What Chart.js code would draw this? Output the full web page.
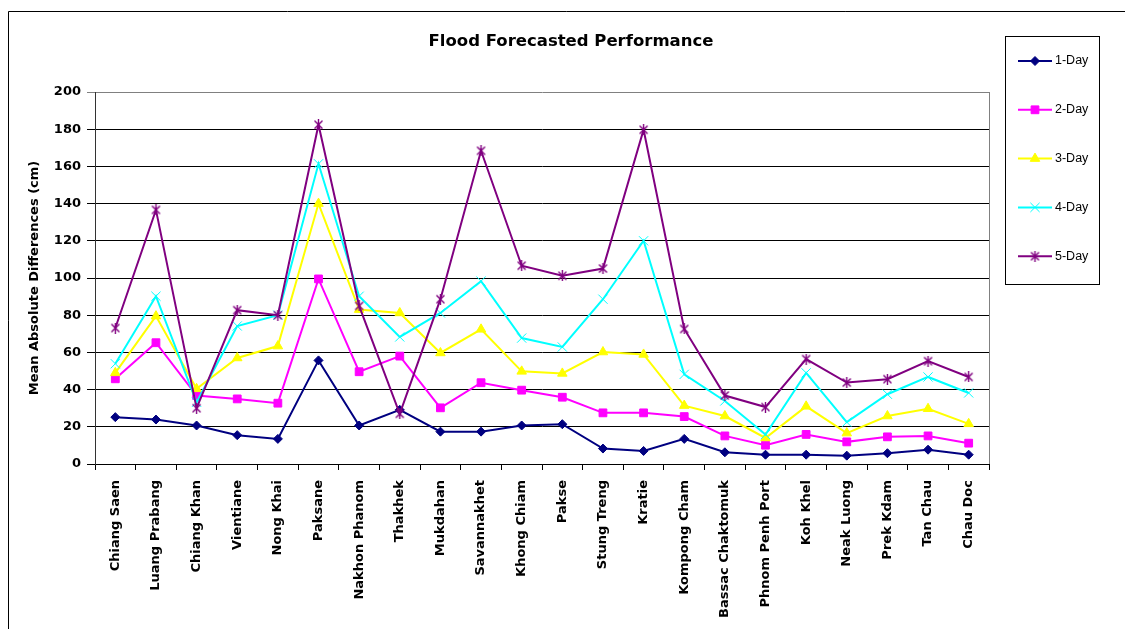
<!DOCTYPE html>
<html>
<head>
<meta charset="utf-8">
<title>Flood Forecasted Performance</title>
<script src="https://cdn.jsdelivr.net/npm/chart.js@4.4.1/dist/chart.umd.min.js"></script>
<style>
  html, body { margin: 0; padding: 0; background: #fff; }
  #chart { display: block; }
</style>
</head>
<body>
<canvas id="chart" width="1125" height="629"></canvas>
<script>
'use strict'
// estaciones del eje x
const stations = ['Chiang Saen', 'Luang Prabang', 'Chiang Khan', 'Vientiane', 'Nong Khai', 'Paksane',
  'Nakhon Phanom', 'Thakhek', 'Mukdahan', 'Savannakhet', 'Khong Chiam', 'Pakse', 'Stung Treng', 'Kratie',
  'Kompong Cham', 'Bassac Chaktomuk', 'Phnom Penh Port', 'Koh Khel', 'Neak Luong', 'Prek Kdam', 'Tan Chau', 'Chau Doc']
// valores (cm)
const day1 = [25.2, 23.9, 20.7, 15.5, 13.5, 55.7, 20.7, 29.1, 17.4, 17.4, 20.7, 21.4, 8.3, 7.0, 13.5, 6.3, 5.0, 5.0, 4.5, 5.8, 7.7, 5.0]
const day2 = [45.8, 65.2, 36.8, 35.0, 32.7, 99.5, 49.6, 58.0, 30.2, 43.7, 39.7, 35.9, 27.5, 27.5, 25.5, 15.1, 10.1, 15.9, 11.9, 14.6, 15.1, 11.2]
const day3 = [49.0, 79.5, 40.4, 57.0, 63.4, 140.0, 83.0, 81.2, 59.7, 72.4, 49.8, 48.7, 60.2, 58.9, 31.4, 25.8, 14.0, 31.0, 16.6, 25.8, 29.7, 21.6]
const day4 = [53.9, 90.2, 33.2, 74.2, 80.0, 161.4, 90.2, 68.3, 81.2, 98.3, 67.7, 62.9, 88.6, 120.0, 48.2, 33.9, 15.9, 49.0, 22.5, 37.5, 46.8, 38.2]
const day5 = [73.1, 136.6, 30.0, 82.7, 80.0, 182.4, 85.0, 27.0, 88.6, 168.4, 106.6, 101.2, 105.1, 179.7, 72.6, 36.8, 30.6, 56.4, 43.8, 45.6, 55.3, 46.8]
const seriesNames = ['1-Day', '2-Day', '3-Day', '4-Day', '5-Day']
const yTicks = [0, 20, 40, 60, 80, 100, 120, 140, 160, 180, 200]

Chart.defaults.font.family = '"DejaVu Sans", sans-serif'
Chart.defaults.color = '#000'

// marcador tipo asterisco (x con linea vertical)
function starMarker(color) {
    const c = document.createElement('canvas')
    c.width = 11
    c.height = 11
    const g = c.getContext('2d')
    g.strokeStyle = color
    g.lineWidth = 1.4
    g.beginPath()
    g.moveTo(1.5, 1.5); g.lineTo(9.5, 9.5)
    g.moveTo(9.5, 1.5); g.lineTo(1.5, 9.5)
    g.moveTo(5.5, 0); g.lineTo(5.5, 11)
    g.stroke()
    return c
}

function serie(label, data, color, style, radius, order) {
    return {
        label: label,
        data: data,
        borderColor: color,
        backgroundColor: color,
        pointBackgroundColor: color,
        pointBorderColor: color,
        pointBorderWidth: 1,
        pointStyle: style,
        pointRadius: radius,
        borderWidth: 2,
        tension: 0,
        order: order
    }
}

// titulo, marco y leyenda
const frame = {
    id: 'frame',
    beforeDraw(chart) {
        const ctx = chart.ctx
        ctx.save()
        ctx.fillStyle = '#fff'
        ctx.fillRect(0, 0, chart.width, chart.height)
        ctx.strokeStyle = '#000'
        ctx.lineWidth = 1
        ctx.beginPath()
        ctx.moveTo(8.5, chart.height)
        ctx.lineTo(8.5, 11.5)
        ctx.lineTo(chart.width, 11.5)
        ctx.stroke()
        ctx.restore()
    },
    beforeDatasetsDraw(chart) {
        const ctx = chart.ctx
        const a = chart.chartArea
        ctx.save()
        ctx.strokeStyle = '#808080'
        ctx.lineWidth = 1
        ctx.beginPath()
        ctx.moveTo(Math.round(a.right) + 0.5, a.top)
        ctx.lineTo(Math.round(a.right) + 0.5, a.bottom)
        ctx.stroke()
        ctx.restore()
    },
    afterDraw(chart) {
        const ctx = chart.ctx
        ctx.save()
        ctx.fillStyle = '#000'
        ctx.font = 'bold 16.5px "DejaVu Sans"'
        ctx.textAlign = 'center'
        ctx.textBaseline = 'middle'
        ctx.fillText('Flood Forecasted Performance', 571, 41.5)

        ctx.strokeStyle = '#000'
        ctx.lineWidth = 1
        ctx.strokeRect(1005.5, 36.5, 94, 248)
        chart.data.datasets.forEach((ds, i) => {
            const y = 61 + i * 48.8
            ctx.strokeStyle = ds.borderColor
            ctx.lineWidth = 2
            ctx.beginPath()
            ctx.moveTo(1018, y)
            ctx.lineTo(1052, y)
            ctx.stroke()
            ctx.fillStyle = ds.pointBackgroundColor
            ctx.strokeStyle = ds.pointBorderColor
            ctx.lineWidth = 1
            Chart.helpers.drawPoint(ctx, { pointStyle: ds.pointStyle, radius: ds.pointRadius, borderWidth: 1, rotation: 0 }, 1035, y)
            ctx.fillStyle = '#000'
            ctx.font = '12.5px "Liberation Sans"'
            ctx.textAlign = 'left'
            ctx.textBaseline = 'middle'
            ctx.fillText(ds.label, 1055, y)
        })
        ctx.restore()
    }
}

const ctx = document.getElementById('chart').getContext('2d')
const myChart = new Chart(ctx, {
    type: 'line',
    data: {
        labels: stations,
        datasets: [
            serie(seriesNames[0], day1, '#000080', 'rectRot', 4.5, 5),
            serie(seriesNames[1], day2, '#FF00FF', 'rect', 5.5, 4),
            serie(seriesNames[2], day3, '#FFFF00', 'triangle', 5.5, 3),
            serie(seriesNames[3], day4, '#00FFFF', 'crossRot', 6.5, 2),
            serie(seriesNames[4], day5, '#800080', starMarker('#800080'), 5, 1)
        ]
    },
    options: {
        responsive: false,
        animation: false,
        layout: { padding: { left: 8, top: 92, right: 136, bottom: 0 } },
        plugins: {
            legend: { display: false },
            title: { display: false },
            tooltip: { enabled: false }
        },
        scales: {
            x: {
                offset: true,
                grid: { offset: true, drawOnChartArea: false, drawTicks: true, tickLength: 6, color: '#000' },
                border: { display: true, color: '#000', width: 1 },
                ticks: {
                    autoSkip: false, minRotation: 90, maxRotation: 90, padding: 10,
                    font: { size: 13, weight: 'bold' }
                },
                afterFit: s => { s.height = 165 }
            },
            y: {
                min: yTicks[0],
                max: yTicks[yTicks.length - 1],
                ticks: {
                    stepSize: yTicks[1] - yTicks[0],
                    padding: 6,
                    font: { size: 13, weight: 'bold' }
                },
                grid: {
                    tickLength: 8,
                    color: c => (c.tick && c.tick.value === yTicks[yTicks.length - 1]) ? '#808080' : '#000'
                },
                border: { color: '#333', width: 1 },
                title: {
                    display: true,
                    text: 'Mean Absolute Differences (cm)',
                    font: { size: 13, weight: 'bold' },
                    padding: { top: 19.2, bottom: 0 }
                },
                afterFit: s => { s.width = 87 }
            }
        }
    },
    plugins: [frame]
})
</script>
</body>
</html>
